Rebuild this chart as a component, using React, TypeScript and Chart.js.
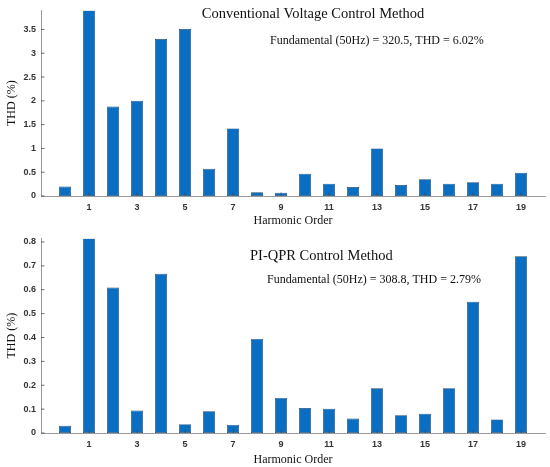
import React, { useEffect, useRef } from "react";
import { Chart, registerables, Plugin } from "chart.js";

Chart.register(...registerables);

// harmonic orders on the x axis (0 = dc component)
const harmonicOrders = [0, 1, 2, 3, 4, 5, 6, 7, 8, 9, 10, 11, 12, 13, 14, 15, 16, 17, 18, 19];
const xTickValues = [1, 3, 5, 7, 9, 11, 13, 15, 17, 19];

// THD per harmonic (%), conventional voltage control
const conventionalThd = [0.2, 3.9, 1.88, 2.0, 3.3, 3.51, 0.57, 1.42, 0.08, 0.07, 0.47, 0.26, 0.19, 1.0, 0.23, 0.35, 0.26, 0.29, 0.26, 0.49];
const conventionalTicks = [0, 0.5, 1, 1.5, 2, 2.5, 3, 3.5];

// THD per harmonic (%), PI-QPR control
const piQprThd = [0.03, 0.815, 0.609, 0.094, 0.667, 0.037, 0.091, 0.034, 0.394, 0.147, 0.105, 0.102, 0.061, 0.187, 0.074, 0.081, 0.187, 0.55, 0.057, 0.74];
const piQprTicks = [0, 0.1, 0.2, 0.3, 0.4, 0.5, 0.6, 0.7, 0.8];

const SERIF = "'Liberation Serif', 'Times New Roman', serif";
const SANS = "'Liberation Sans', Arial, sans-serif";

interface Note {
  text: string;
  x: number; // data units
  y: number; // data units
  size: number;
}

// MATLAB-style inward ticks + text annotations inside the axes
const matlabAxes: Plugin = {
  id: "matlabAxes",
  afterDatasetsDraw(chart) {
    const ctx = chart.ctx;
    const xs = chart.scales.x;
    const ys = chart.scales.y;
    const area = chart.chartArea;
    ctx.save();
    ctx.strokeStyle = "#4a4a4a";
    ctx.lineWidth = 0.8;
    ctx.beginPath();
    xs.ticks.forEach((t) => {
      const px = xs.getPixelForValue(t.value);
      ctx.moveTo(px, area.bottom);
      ctx.lineTo(px, area.bottom - 3.5);
    });
    ys.ticks.forEach((t) => {
      const py = ys.getPixelForValue(t.value);
      ctx.moveTo(area.left, py);
      ctx.lineTo(area.left + 3.5, py);
    });
    ctx.stroke();

    const notes: Note[] = (chart.options.plugins as any).notes || [];
    ctx.fillStyle = "#111";
    ctx.textAlign = "left";
    ctx.textBaseline = "middle";
    notes.forEach((n) => {
      ctx.font = `${n.size}px ${SERIF}`;
      ctx.fillText(n.text, xs.getPixelForValue(n.x), ys.getPixelForValue(n.y));
    });
    ctx.restore();
  },
};

function makeConfig(values: number[], yTicks: number[], yMax: number, notes: Note[], xHeight: number, padTop: number): any {
  return {
    type: "bar",
    data: {
      datasets: [
        {
          data: harmonicOrders.map((h, i) => ({ x: h, y: values[i] })),
          backgroundColor: "#0a6fc2",
          borderColor: "#25476a",
          borderWidth: 0.7,
          borderSkipped: false,
          barPercentage: 0.5,
          categoryPercentage: 1,
        },
      ],
    },
    options: {
      responsive: true,
      maintainAspectRatio: false,
      animation: false,
      layout: { padding: { top: padTop, left: 0, right: 5, bottom: 0 } },
      plugins: {
        legend: { display: false },
        tooltip: { enabled: false },
        notes,
      },
      scales: {
        x: {
          type: "linear",
          offset: false,
          min: -1,
          max: 20,
          afterBuildTicks: (scale: any) => {
            scale.ticks = xTickValues.map((v) => ({ value: v }));
          },
          afterFit: (scale: any) => {
            scale.height = xHeight;
          },
          grid: { display: false, drawTicks: false },
          border: { display: true, color: "#9a9a9a", width: 1 },
          ticks: {
            color: "#333",
            padding: 6,
            maxRotation: 0,
            callback: (v: number) => `${v}`,
            font: { family: SANS, size: 9, weight: "bold" },
          },
          title: {
            display: true,
            text: "Harmonic Order",
            color: "#111",
            padding: { top: 2, bottom: 0 },
            font: { family: SERIF, size: 12 },
          },
        },
        y: {
          min: 0,
          max: yMax,
          afterBuildTicks: (scale: any) => {
            scale.ticks = yTicks.map((v) => ({ value: v }));
          },
          afterFit: (scale: any) => {
            scale.width = 41;
          },
          grid: { display: false, drawTicks: false },
          border: { display: true, color: "#9a9a9a", width: 1 },
          ticks: {
            color: "#333",
            padding: 5,
            callback: (v: number) => `${v}`,
            font: { family: SANS, size: 9, weight: "bold" },
          },
          title: {
            display: true,
            text: "THD (%)",
            color: "#111",
            padding: { top: 5, bottom: 0 },
            font: { family: SERIF, size: 12 },
          },
        },
      },
    },
    plugins: [matlabAxes],
  };
}

const BarPanel: React.FC<{ config: any; top: number; height: number }> = ({ config, top, height }) => {
  const canvasRef = useRef<HTMLCanvasElement>(null);

  useEffect(() => {
    if (!canvasRef.current) return;
    const chart = new Chart(canvasRef.current, config);
    return () => chart.destroy();
  }, [config]);

  return (
    <div style={{ position: "absolute", left: 0, top, width: 550, height }}>
      <canvas ref={canvasRef} />
    </div>
  );
};

const topConfig = makeConfig(
  conventionalThd,
  conventionalTicks,
  3.9,
  [
    { text: "Conventional Voltage Control Method", x: 5.7, y: 3.81, size: 14.5 },
    { text: "Fundamental (50Hz) = 320.5, THD = 6.02%", x: 8.54, y: 3.25, size: 12 },
  ],
  32,
  9
);

const bottomConfig = makeConfig(
  piQprThd,
  piQprTicks,
  0.815,
  [
    { text: "PI-QPR Control Method", x: 7.71, y: 0.741, size: 14.5 },
    { text: "Fundamental (50Hz) = 308.8, THD = 2.79%", x: 8.42, y: 0.642, size: 12 },
  ],
  34,
  0
);

export default function App() {
  return (
    <div style={{ position: "absolute", left: 0, top: 0, width: 550, height: 467, background: "#fff" }}>
      <BarPanel config={topConfig} top={0} height={228} />
      <BarPanel config={bottomConfig} top={228} height={239} />
    </div>
  );
}
